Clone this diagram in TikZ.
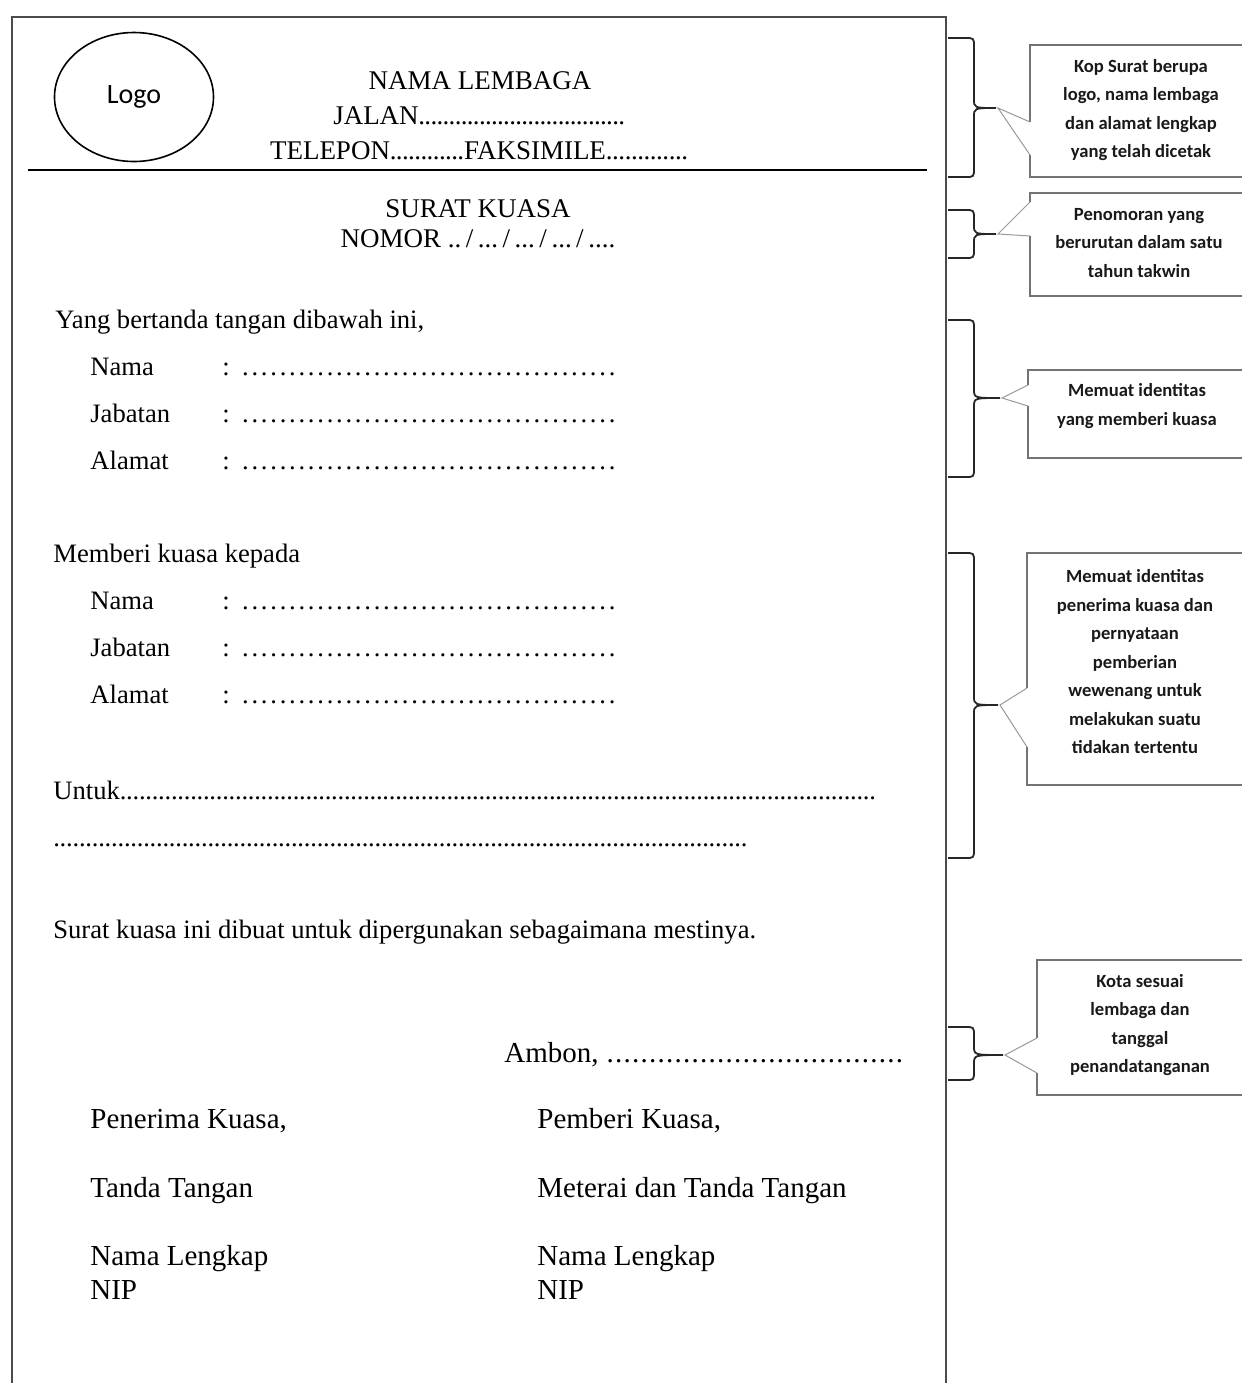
\documentclass[tikz,border=0pt]{standalone}
\usepackage{fontspec}
\setmainfont{Liberation Serif}
\newfontfamily\calibri{Carlito}
\usepackage{tikz}
\usetikzlibrary{shapes.geometric}

\newcommand\dotrun[2]{\xleaders\hbox to #1{\hss.\hss}\hskip #2\relax\kern0pt}

\tikzset{
    sheet/.style={line width=0.9pt, black!70},
    headtext/.style={font=\fontsize{13.5}{16}\selectfont, inner sep=0pt, anchor=base},
    letter/.style={font=\fontsize{13.3}{16}\selectfont, inner sep=0pt, anchor=base west},
    signtext/.style={font=\fontsize{14.5}{17}\selectfont, inner sep=0pt, anchor=base west},
    bracket/.style={line width=0.9pt, black!85},
    notebox/.style={line width=0.6pt, black!55},
    pointer/.style={line width=0.5pt, black!40},
    note/.style={font=\calibri\bfseries\fontsize{9.3}{14.25}\selectfont, align=center, inner sep=0pt, black!90}
}

\begin{document}
\begin{tikzpicture}[x=0.5pt, y=-0.5pt]
        \useasboundingbox (0,0) rectangle (1242,1383);

        \draw[sheet] (12,1383) -- (12,17) -- (946,17) -- (946,1383);

        \node[draw, ellipse, line width=0.8pt, minimum width=79.5pt, minimum height=64.5pt,
              font=\calibri\fontsize{14}{16}\selectfont] (logo) at (134,97) {Logo};

        \node[headtext] (lembaga) at (480,89) {NAMA LEMBAGA};
        \node[headtext] (jalan) at (479,124) {JALAN\dotrun{3pt}{103pt}};
        \node[headtext] (telepon) at (479,159) {TELEPON\dotrun{3pt}{37pt}FAKSIMILE\dotrun{3pt}{41pt}};
        \draw[line width=1.3pt] (28,170) -- (927,170);

        \node[headtext] (judul) at (478,217) {SURAT KUASA};
        \node[headtext] (nomor) at (478,247) {NOMOR ..\,/\,...\,/\,...\,/\,...\,/\,....};

        \node[letter] (pemberi) at (55,328) {Yang bertanda tangan dibawah ini,};
        \foreach \lbl [count=\i] in {Nama, Jabatan, Alamat} {
            \node[letter] (giver\i) at (90,328+47*\i) {\lbl};
            \node[letter] (giverdots\i) at (222,328+47*\i) {:\hspace{5.5pt}\dotrun{4.7pt}{188pt}};
        }

        \node[letter] (penerima) at (53,562) {Memberi kuasa kepada};
        \foreach \lbl [count=\i] in {Nama, Jabatan, Alamat} {
            \node[letter] (receiver\i) at (90,562+47*\i) {\lbl};
            \node[letter] (receiverdots\i) at (222,562+47*\i) {:\hspace{5.5pt}\dotrun{4.7pt}{188pt}};
        }

        \node[letter] (untuk) at (53,799) {Untuk\dotrun{3.2pt}{378pt}};
        \node[letter] (untukdots) at (53,846) {\dotrun{3.2pt}{347pt}};
        \node[letter] (penutup) at (53,938) {Surat kuasa ini dibuat untuk dipergunakan sebagaimana mestinya.};

        \node[signtext] (kota) at (504,1062) {Ambon, \dotrun{4.2pt}{149pt}};
        \node[signtext] (terima) at (90,1128) {Penerima Kuasa,};
        \node[signtext] (beri) at (537,1128) {Pemberi Kuasa,};
        \node[signtext] (ttdterima) at (90,1197) {Tanda Tangan};
        \node[signtext] (ttdberi) at (537,1197) {Meterai dan Tanda Tangan};
        \node[signtext] (namaterima) at (90,1265) {Nama Lengkap};
        \node[signtext] (namaberi) at (537,1265) {Nama Lengkap};
        \node[signtext] (nipterima) at (90,1299) {NIP};
        \node[signtext] (nipberi) at (537,1299) {NIP};

        \foreach \ya/\ym/\yb/\tx/\bx/\bt/\ga/\gb/\bb [count=\i] in {
            38/108/177/998/1030/45/122/155/177,
            210/234/258/998/1030/193/202/236/296,
            320/398/477/1002/1028/370/385/406/458,
            553/705/858/1000/1027/553/688/747/785,
            1027/1055/1080/1005/1037/960/1038/1073/1095} {
            \coordinate (tip\i) at (\tx,\ym);
            \draw[bracket] (948,\ya) -- (965,\ya) .. controls (974,\ya) .. (974,\ya+9)
                -- (974,\ym-9) .. controls (974,\ym) .. (\tx-2,\ym)
                .. controls (974,\ym) .. (974,\ym+9) -- (974,\yb-9)
                .. controls (974,\yb) .. (965,\yb) -- (948,\yb);
            \draw[notebox] (1242,\bt) -- (\bx,\bt) -- (\bx,\ga);
            \draw[notebox] (\bx,\gb) -- (\bx,\bb) -- (1242,\bb);
            \draw[pointer] (\bx,\ga) -- (tip\i) -- (\bx,\gb);
        }

        \node[note] (kopnote) at (1141,110) {Kop Surat berupa\\logo, nama lembaga\\dan alamat lengkap\\yang telah dicetak};
        \node[note] (nomornote) at (1139,243) {Penomoran yang\\berurutan dalam satu\\tahun takwin};
        \node[note] (givernote) at (1137,406) {Memuat identitas\\yang memberi kuasa};
        \node[note] (receivernote) at (1135,662) {Memuat identitas\\penerima kuasa dan\\pernyataan\\pemberian\\wewenang untuk\\melakukan suatu\\tidakan tertentu};
        \node[note] (kotanote) at (1140,1025) {Kota sesuai\\lembaga dan\\tanggal\\penandatanganan};
    \end{tikzpicture}
\end{document}
